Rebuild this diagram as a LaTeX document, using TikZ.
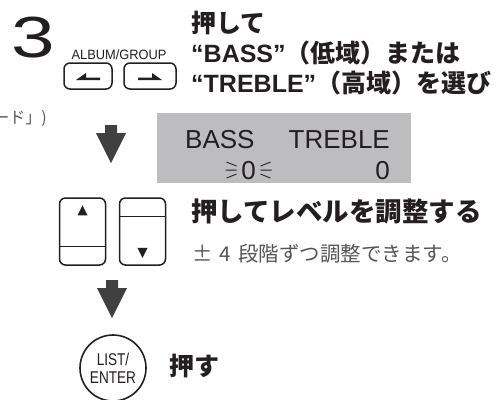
\documentclass[tikz,border=0pt]{standalone}
\usepackage{fontspec}
\setmainfont{Liberation Sans}
\newfontfamily\jpfont{Noto Sans CJK JP}
\usetikzlibrary{calc, positioning}
\definecolor{ink}{RGB}{35,31,32}
\definecolor{softink}{RGB}{85,85,88}
\definecolor{lcdgray}{RGB}{189,189,192}
\definecolor{arrowgray}{RGB}{64,64,64}
\tikzset{
  keybox/.style   = {rectangle, rounded corners=6pt, draw=ink, line width=1.5pt,
                     fill=white, inner sep=0pt},
  keyround/.style = {circle, draw=ink, line width=1.6pt, fill=white,
                     minimum size=66pt, inner sep=0pt},
  lcd/.style      = {rectangle, fill=lcdgray, inner sep=0pt},
  lcdtext/.style  = {font=\fontsize{26}{26}\selectfont, text=ink, inner sep=0pt},
  headtext/.style = {font=\fontsize{25}{30}\selectfont\bfseries, text=ink,
                     align=left, inner sep=0pt},
  notetext/.style = {font=\fontsize{20.5}{20.5}\selectfont\jpfont, text=softink,
                     inner sep=0pt},
  steparrow/.pic  = {\fill[arrowgray] (-6,0) -- (6,0) -- (6,8) -- (15,8)
                     -- (0,38) -- (-15,8) -- (-6,8) -- cycle;},
}

\begin{document}
\begin{tikzpicture}[x=1pt, y=-1pt]
  \useasboundingbox (0,0) rectangle (503,399);

  % step number and skip keys
  \node[anchor=base west, inner sep=0pt, xscale=1.35, text=ink,
        font=\fontsize{58}{58}\selectfont] (stepno) at (11,57) {3};
  \node[inner sep=0pt, xscale=0.95, text=ink,
        font=\fontsize{13.5}{13.5}\selectfont] (albumlbl) at (119,55) {ALBUM/GROUP};
  \node[keybox, minimum width=48, minimum height=26] (skipl) at (88,76) {};
  \node[keybox, minimum width=52, minimum height=26] (skipr) at (150,76) {};
  \fill[ink] ($(skipl.center)+(-12,4)$) -- ++(10,-7) -- ++(0,4.5)
    -- ++(14,0) -- ++(0,2.5) -- cycle;
  \fill[ink] ($(skipr.center)+(12,4)$) -- ++(-10,-7) -- ++(0,4.5)
    -- ++(-14,0) -- ++(0,2.5) -- cycle;

  \node[headtext, anchor=north west] (choose) at (191,11)
    {{\jpfont 押して}\\“BASS”{\jpfont （低域）または}\\“TREBLE”{\jpfont （高域）を選び}};

  % cropped caption at the left edge
  \node[anchor=base east, inner sep=0pt, text=softink,
        font=\fontsize{16}{16}\selectfont\jpfont] (modecut) at (47,123) {ード」)};

  \pic at (111,125) {steparrow};

  % display
  \node[lcd, minimum width=254, minimum height=70] (display) at (284,148) {};
  \node[lcdtext, anchor=base west] (basslbl) at (185,148) {BASS};
  \node[lcdtext, anchor=base east] (treblelbl) at (390,148) {TREBLE};
  \node[lcdtext, anchor=base] (bassval) at (248.5,179) {0};
  \node[lcdtext, anchor=base east] (trebleval) at (390,179) {0};
  \foreach \s in {-1,1} {
    \draw[ink, line width=0.9pt]
      ($(bassval.center)+(\s*22,-8)$) -- ++(\s*-10,4)
      ($(bassval.center)+(\s*23,0)$) -- ++(\s*-11,0)
      ($(bassval.center)+(\s*22,8)$) -- ++(\s*-10,-4);
  }

  % level keys
  \node[keybox, minimum width=46, minimum height=67] (upkey) at (82.5,231.5) {};
  \node[keybox, minimum width=46, minimum height=67] (downkey) at (142.5,231.5) {};
  \draw[ink, line width=1.2pt] ($(upkey.south west)+(0,-19)$) -- ($(upkey.south east)+(0,-19)$);
  \draw[ink, line width=1.2pt] ($(downkey.north west)+(0,19)$) -- ($(downkey.north east)+(0,19)$);
  \fill[ink] ($(upkey.north)+(0,8)$) -- ++(5,10) -- ++(-10,0) -- cycle;
  \fill[ink] ($(downkey.south)+(0,-8)$) -- ++(5,-10) -- ++(-10,0) -- cycle;

  \node[headtext, anchor=west, font=\fontsize{26.5}{26.5}\selectfont\bfseries\jpfont]
    (adjust) at (191,211) {押してレベルを調整する};
  \node[notetext, anchor=west] (stepsnote) at (192,254)
    {±\hspace{0.35em}4\hspace{0.35em}段階ずつ調整できます。};

  \pic at (112,280) {steparrow};

  % enter key
  \node[keyround] (enterkey) at (113,368) {};
  \node[inner sep=0pt, xscale=0.8, text=ink, align=center,
        font=\fontsize{17}{18}\selectfont] (enterlbl) at (enterkey.center) {LIST/\\ENTER};
  \node[headtext, anchor=west, font=\fontsize{25}{25}\selectfont\bfseries\jpfont]
    (pushlbl) at (169,366) {押す};
\end{tikzpicture}
\end{document}
